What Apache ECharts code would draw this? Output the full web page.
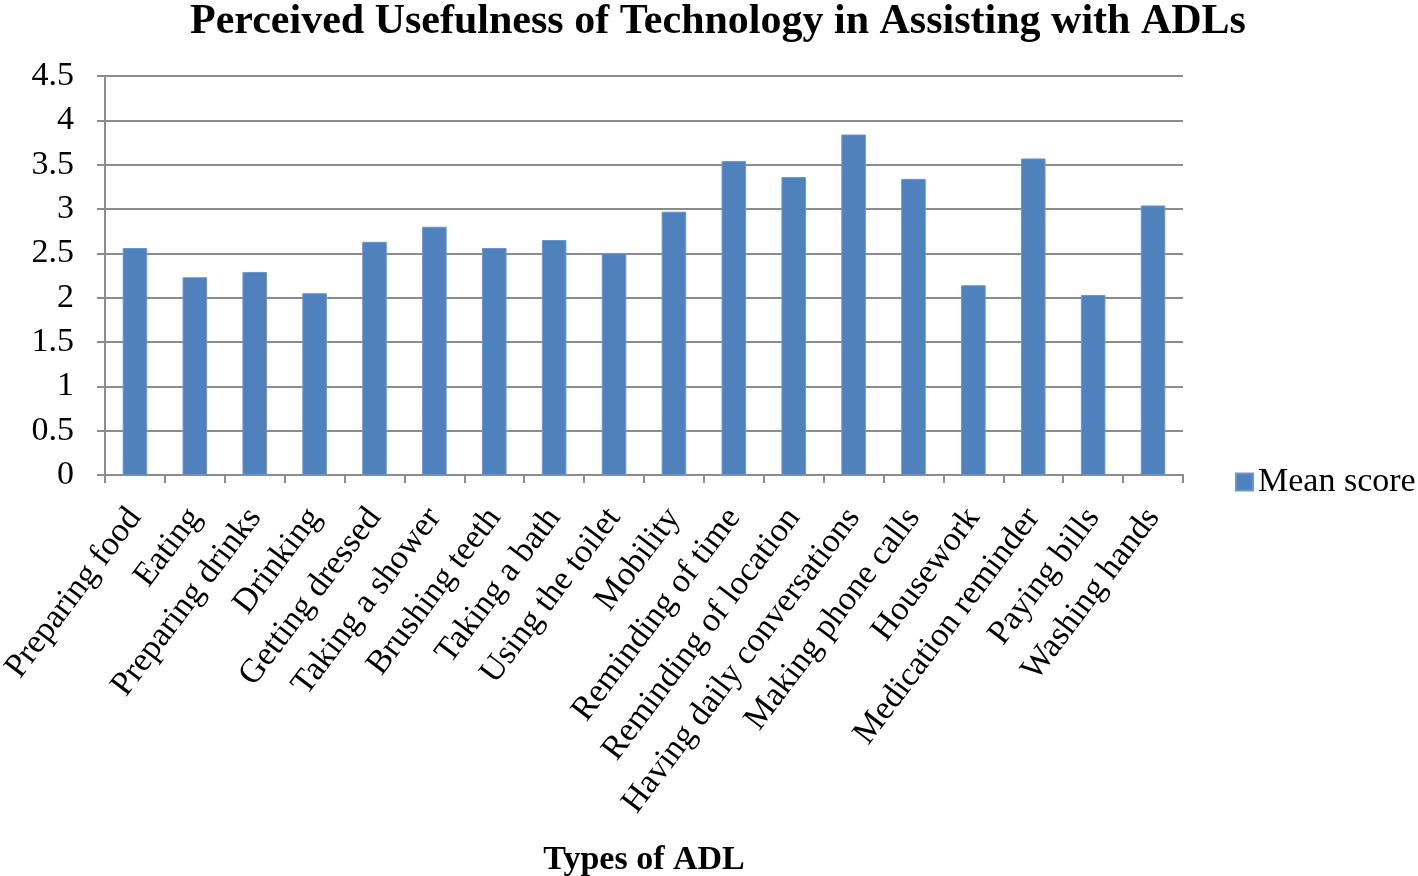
<!DOCTYPE html>
<html><head><meta charset="utf-8">
<script src="https://cdn.jsdelivr.net/npm/echarts@6/dist/echarts.min.js"></script>
<style>html,body{margin:0;padding:0;background:#fff}#c{width:1418px;height:876px}</style>
</head><body><div id="c"></div>
<script>
const categories = ["Preparing food","Eating","Preparing drinks","Drinking","Getting dressed","Taking a shower","Brushing teeth","Taking a bath","Using the toilet","Mobility","Reminding of time","Reminding of location","Having daily conversations","Making phone calls","Housework","Medication reminder","Paying bills","Washing hands"];
const meanScore = [2.56,2.23,2.29,2.05,2.63,2.80,2.56,2.65,2.50,2.97,3.54,3.36,3.84,3.34,2.14,3.57,2.03,3.04];
const yTicks = {min:0, max:4.5, interval:0.5};
const font = "'Liberation Serif','Times New Roman',serif";
const chart = echarts.init(document.getElementById('c'));
chart.setOption({
  animation:false,
  title:{text:'Perceived Usefulness of Technology in Assisting with ADLs',left:713,textAlign:'center',top:-4,
    textStyle:{fontFamily:font,fontWeight:'bold',fontSize:42,color:'#000'}},
  legend:{data:['Mean score'],left:1230,top:460,itemWidth:17,itemHeight:17,icon:'rect',
    textStyle:{fontFamily:font,fontSize:34,color:'#000'},itemGap:5},
  grid:{left:105,right:235,top:76,bottom:401,containLabel:false,outerBoundsMode:'none'},
  xAxis:{type:'category',data:categories,
    name:'Types of ADL',nameLocation:'middle',nameGap:368,
    nameTextStyle:{fontFamily:font,fontWeight:'bold',fontSize:34,color:'#000'},
    axisLine:{lineStyle:{color:'#8c8c8c',width:2}},
    axisTick:{show:true,length:8,lineStyle:{color:'#8c8c8c',width:2}},
    axisLabel:{rotate:53,interval:0,margin:37,fontFamily:font,fontSize:34,color:'#000'}},
  yAxis:{type:'value',min:yTicks.min,max:yTicks.max,interval:yTicks.interval,
    axisLine:{show:true,lineStyle:{color:'#8c8c8c',width:2}},
    axisTick:{show:true,length:8,lineStyle:{color:'#8c8c8c',width:2}},
    splitLine:{lineStyle:{color:'#8c8c8c',width:2}},
    axisLabel:{margin:31,fontFamily:font,fontSize:34,color:'#000'}},
  series:[{name:'Mean score',type:'bar',data:meanScore,barCategoryGap:'59%',
    itemStyle:{color:'#4F81BD',borderColor:'#6a96cc',borderWidth:1}}]
});
</script></body></html>
